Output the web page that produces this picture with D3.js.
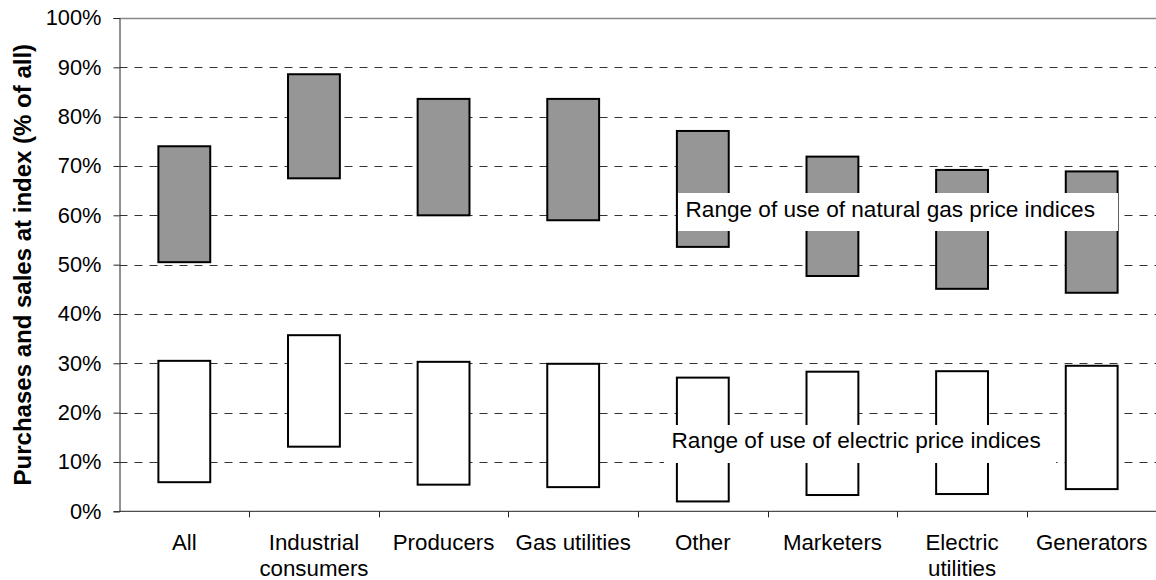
<!DOCTYPE html>
<html>
<head>
<meta charset="utf-8">
<script src="https://cdn.jsdelivr.net/npm/d3@7"></script>
<style>
  body { margin: 0; background: #fff; }
  text { font-family: Arial, "Liberation Sans", sans-serif; }
</style>
</head>
<body>
<div id="chart"></div>
<script>
// Categories along the x axis (label lines)
const categories = [
  ['All'],
  ['Industrial', 'consumers'],
  ['Producers'],
  ['Gas utilities'],
  ['Other'],
  ['Marketers'],
  ['Electric', 'utilities'],
  ['Generators']
]

// Range of use of natural gas price indices (low, high), % of all
const gasLow = [50.5, 67.5, 60.0, 59.0, 53.6, 47.7, 45.1, 44.3]
const gasHigh = [74.0, 88.6, 83.6, 83.6, 77.1, 71.9, 69.2, 68.9]

// Range of use of electric price indices (low, high), % of all
const elecLow = [5.9, 13.1, 5.4, 4.9, 2.0, 3.3, 3.5, 4.5]
const elecHigh = [30.5, 35.7, 30.3, 29.9, 27.1, 28.3, 28.4, 29.5]

const yTicks = [0, 10, 20, 30, 40, 50, 60, 70, 80, 90, 100]

const width = 1156
const height = 580
const plotLeft = 119.5
const plotRight = 1156.5
const plotTop = 18
const plotBottom = 511.3

const svg = d3.select('#chart').append('svg').attr('width', width).attr('height', height)

const keys = categories.map((c, i) => i)
const x = d3.scaleBand().domain(keys).range([plotLeft, plotRight]).paddingInner(0.6).paddingOuter(0.3)
const xi = d3.scaleLinear().domain([0, categories.length]).range([plotLeft, plotRight])
const y = d3.scaleLinear().domain([0, 100]).range([plotBottom, plotTop])

// Gridlines
svg.append('g')
  .selectAll('line')
  .data(yTicks.filter(d => d > 0 && d < 100))
  .join('line')
  .attr('x1', plotLeft)
  .attr('x2', width)
  .attr('y1', d => Math.round(y(d)) + 0.5)
  .attr('y2', d => Math.round(y(d)) + 0.5)
  .attr('stroke', '#333')
  .attr('stroke-dasharray', '8,7')

// top border at 100%
svg.append('line')
  .attr('x1', plotLeft).attr('x2', width)
  .attr('y1', Math.round(y(100)) + 0.5).attr('y2', Math.round(y(100)) + 0.5)
  .attr('stroke', '#888').attr('stroke-width', 1.5)

// Bars
function drawRanges(low, high, fill) {
  svg.append('g')
    .selectAll('rect')
    .data(keys)
    .join('rect')
    .attr('x', i => x(i))
    .attr('width', x.bandwidth())
    .attr('y', i => y(high[i]))
    .attr('height', i => y(low[i]) - y(high[i]))
    .attr('fill', fill)
    .attr('stroke', '#000')
    .attr('stroke-width', 2)
}
drawRanges(gasLow, gasHigh, '#969696')
drawRanges(elecLow, elecHigh, '#fff')

// Y axis
const yAxis = svg.append('g')
  .attr('transform', `translate(${plotLeft},0)`)
  .call(d3.axisLeft(y).tickValues(yTicks).tickFormat(d => d + '%').tickSize(6).tickPadding(12))
yAxis.select('.domain').attr('stroke', '#222')
yAxis.selectAll('.tick line').attr('stroke', '#222')
yAxis.selectAll('.tick text').attr('font-size', '21.8px').attr('fill', '#000')

// X axis line and ticks at band boundaries
svg.append('line')
  .attr('x1', plotLeft).attr('x2', width)
  .attr('y1', plotBottom).attr('y2', plotBottom)
  .attr('stroke', '#222')
svg.append('g')
  .selectAll('line')
  .data(d3.range(1, categories.length + 1))
  .join('line')
  .attr('x1', d => Math.round(xi(d)) + 0.5)
  .attr('x2', d => Math.round(xi(d)) + 0.5)
  .attr('y1', plotBottom)
  .attr('y2', plotBottom + 6)
  .attr('stroke', '#222')

// Category labels
const catText = svg.append('g')
  .selectAll('text')
  .data(keys)
  .join('text')
  .attr('x', i => x(i) + x.bandwidth() / 2)
  .attr('y', 550)
  .attr('text-anchor', 'middle')
  .attr('font-size', '22.3px')
catText.selectAll('tspan')
  .data(i => categories[i].map((t, j) => ({ t, j, i })))
  .join('tspan')
  .attr('x', d => x(d.i) + x.bandwidth() / 2)
  .attr('dy', d => d.j === 0 ? 0 : 26)
  .text(d => d.t)

// Annotation boxes
function note(txt, x0, x1, yTop, yBot, baseline) {
  svg.append('rect')
    .attr('x', x0).attr('y', yTop)
    .attr('width', x1 - x0).attr('height', yBot - yTop)
    .attr('fill', '#fff')
  svg.append('text')
    .attr('x', x0 + 7.5).attr('y', baseline)
    .attr('font-size', '22.6px')
    .text(txt)
}
note('Range of use of natural gas price indices', 678, 1118, 193, 231, 216.5)
note('Range of use of electric price indices', 664, 1056, 425, 463, 448.3)

// Y axis title
svg.append('text')
  .attr('transform', `translate(31,${(plotTop + plotBottom) / 2}) rotate(-90)`)
  .attr('text-anchor', 'middle')
  .attr('font-size', '24px')
  .attr('font-weight', 'bold')
  .text('Purchases and sales at index (% of all)')
</script>
</body>
</html>
